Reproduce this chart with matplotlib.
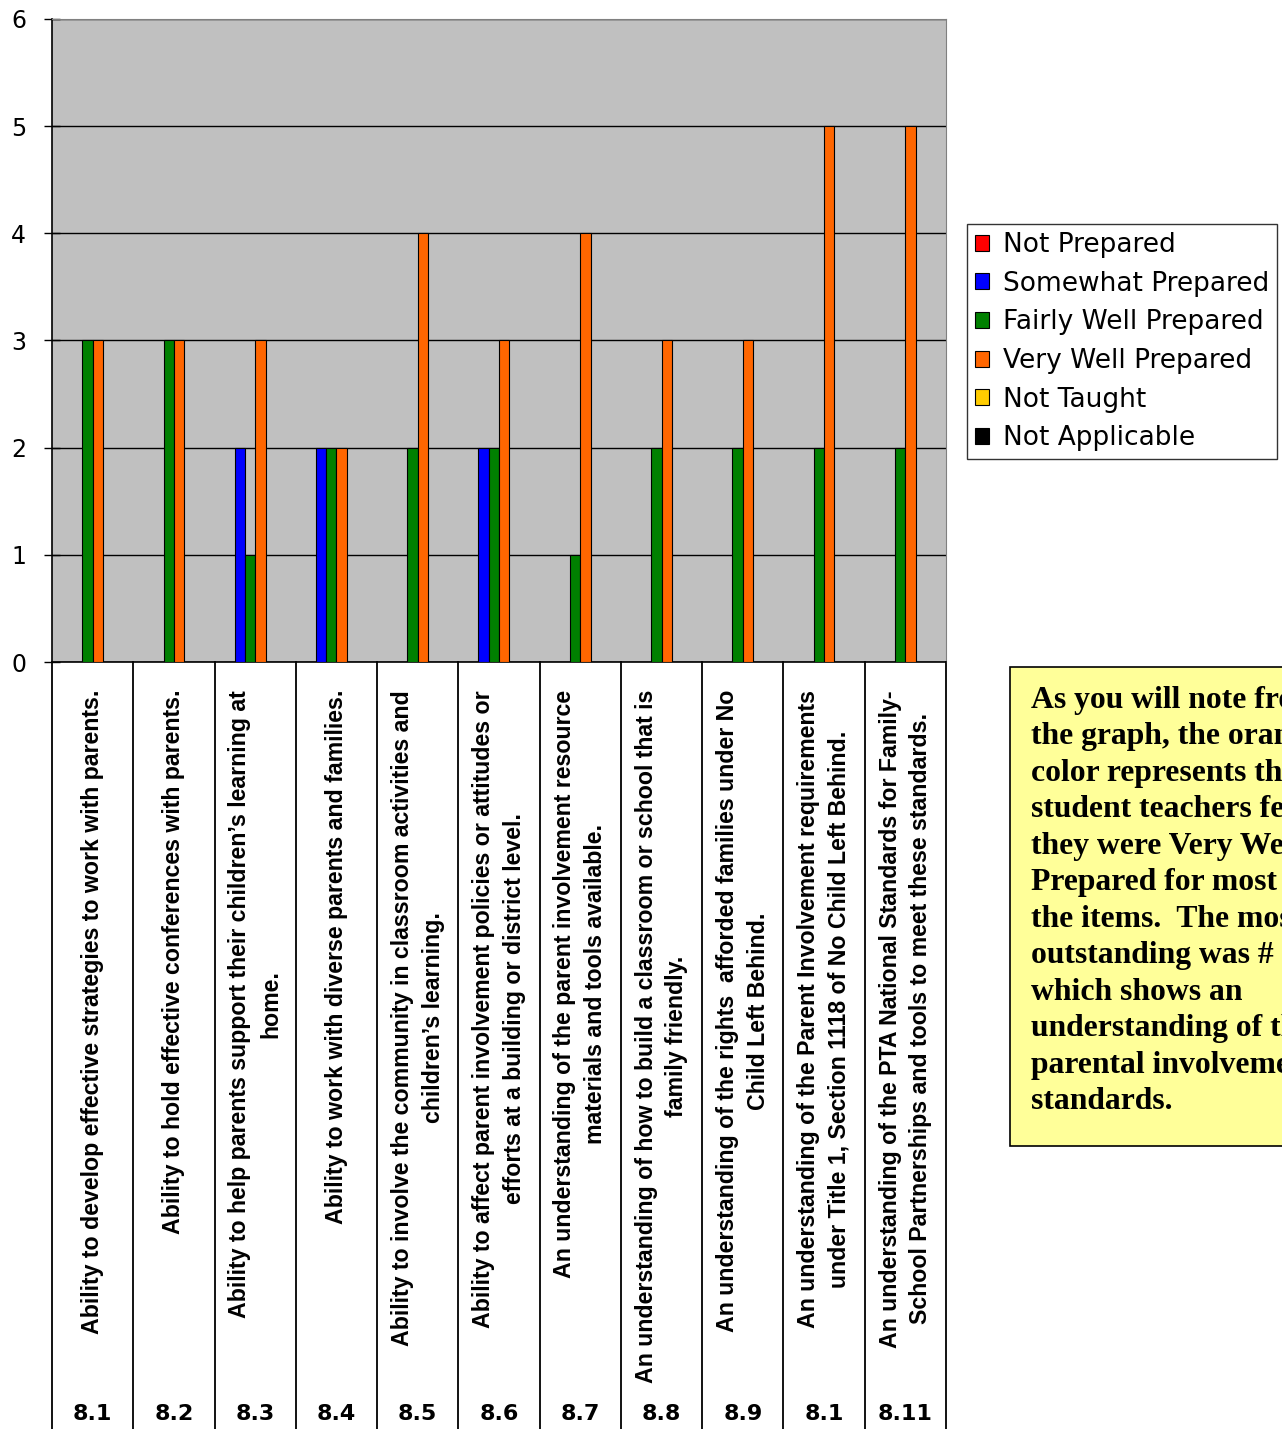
import matplotlib
matplotlib.use("Agg")
import matplotlib.pyplot as plt
import matplotlib.transforms as mtrans
from matplotlib.patches import Rectangle
import numpy as np

numbers = ["8.1", "8.2", "8.3", "8.4", "8.5", "8.6", "8.7", "8.8", "8.9", "8.1", "8.11"]
labels = [
    "Ability to develop effective strategies to work with parents.",
    "Ability to hold effective conferences with parents.",
    "Ability to help parents support their children\u2019s learning at\nhome.",
    "Ability to work with diverse parents and families.",
    "Ability to involve the community in classroom activities and\nchildren\u2019s learning.",
    "Ability to affect parent involvement policies or attitudes or\nefforts at a building or district level.",
    "An understanding of the parent involvement resource\nmaterials and tools available.",
    "An understanding of how to build a classroom or school that is\nfamily friendly.",
    "An understanding of the rights  afforded families under No\nChild Left Behind.",
    "An understanding of the Parent Involvement requirements\nunder Title 1, Section 1118 of No Child Left Behind.",
    "An understanding of the PTA National Standards for Family-\nSchool Partnerships and tools to meet these standards.",
]
series_names = ["Not Prepared", "Somewhat Prepared", "Fairly Well Prepared",
                "Very Well Prepared", "Not Taught", "Not Applicable"]
not_prepared = [0, 0, 0, 0, 0, 0, 0, 0, 0, 0, 0]
somewhat = [0, 0, 2, 2, 0, 2, 0, 0, 0, 0, 0]
fairly_well = [3, 3, 1, 2, 2, 2, 1, 2, 2, 2, 2]
very_well = [3, 3, 3, 2, 4, 3, 4, 3, 3, 5, 5]
not_taught = [0, 0, 0, 0, 0, 0, 0, 0, 0, 0, 0]
not_applicable = [0, 0, 0, 0, 0, 0, 0, 0, 0, 0, 0]
colors = ["#FF0000", "#0000FF", "#008000", "#FF6600", "#FFCC00", "#000000"]
note_text = ("As you will note from\nthe graph, the orange\ncolor represents the\n"
             "student teachers felt\nthey were Very Well\nPrepared for most of\n"
             "the items.  The most\noutstanding was # 10\nwhich shows an\n"
             "understanding of the\nparental involvement\nstandards.")

W, H = 1282, 1429
fig = plt.figure(figsize=(W / 100, H / 100), dpi=100)
fig.patch.set_facecolor("white")
ax = fig.add_axes([52 / W, 1 - 662 / H, 894 / W, 643 / H])
ax.set_facecolor("#C0C0C0")

all_series = [not_prepared, somewhat, fairly_well, very_well, not_taught, not_applicable]
x = np.arange(len(numbers))
bw = 0.127
for k, (vals, c, name) in enumerate(zip(all_series, colors, series_names)):
    ax.bar(x + (k - 2.5) * bw, vals, width=bw, color=c, edgecolor="black",
           linewidth=0.8, label=name, zorder=3)

ax.set_xlim(-0.5, len(numbers) - 0.5)
ax.set_ylim(0, 6)
ax.set_yticks(range(7))
ax.set_xticks([])
ax.yaxis.grid(True, color="black", linewidth=1.0, zorder=1)
ax.set_axisbelow(True)
ax.tick_params(axis="y", direction="inout", length=11, width=1, pad=13, labelsize=17)
for t in ax.get_yticklabels():
    t.set_fontfamily("DejaVu Sans")
for s in ["top", "right"]:
    ax.spines[s].set_color("#808080")
for s in ["left", "bottom"]:
    ax.spines[s].set_color("black")
    ax.spines[s].set_linewidth(1.2)

# table area below the axis
tr = mtrans.blended_transform_factory(ax.transData, fig.transFigure)
for b in np.arange(-0.5, len(numbers), 1.0):
    ax.plot([b, b], [0, 1 - 662 / H], transform=tr, color="black",
            linewidth=1.3, clip_on=False)
for i, (lab, num) in enumerate(zip(labels, numbers)):
    ax.text(i, 1 - 690 / H, lab, transform=tr, rotation=90, ha="center", va="top",
            multialignment="center", fontsize=16.7, fontweight="bold", linespacing=1.42,
            family="Liberation Sans")
    ax.text(i, 1 - 1414 / H, num, transform=tr, ha="center", va="center",
            fontsize=16, fontweight="bold", family="DejaVu Sans")

leg = ax.legend(loc="upper left", bbox_to_anchor=(967 / W, 1 - 224 / H),
                bbox_transform=fig.transFigure, borderaxespad=0, frameon=True,
                fancybox=False, edgecolor="black", prop={"family": "DejaVu Sans", "size": 19},
                handlelength=0.55, handleheight=0.55, handletextpad=0.5,
                labelspacing=0.48, borderpad=0.3)
leg.get_frame().set_linewidth(1.0)

fig.patches.append(Rectangle((1010 / W, 1 - 1146 / H), 300 / W, (1146 - 667) / H,
                             transform=fig.transFigure, facecolor="#FFFF99",
                             edgecolor="black", linewidth=1.2, zorder=1))
fig.text(1031 / W, 1 - 686 / H, note_text, ha="left", va="top", fontsize=22.8,
         fontweight="bold", family="Liberation Serif", linespacing=1.34, zorder=2)

fig.savefig("out.png", dpi=100)
